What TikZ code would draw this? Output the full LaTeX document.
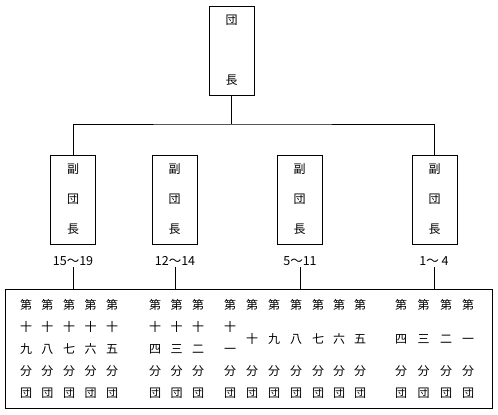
\documentclass[tikz,border=0pt]{standalone}
\usepackage{fontspec}
\setmainfont{Noto Sans CJK JP}
\tikzset{
  waku/.style={draw,line width=0.8pt,inner sep=0pt},
  yaku/.style={waku,minimum width=45pt,minimum height=89pt,align=center},
  bcol/.style={inner sep=0pt,anchor=north,align=center,font=\fontsize{12}{22}\selectfont}
}

\begin{document}
\begin{tikzpicture}[x=1pt,y=-1pt,line width=0.8pt]
\useasboundingbox (0,0) rectangle (498,415);

% create the node
\node[yaku,font=\fontsize{12}{60}\selectfont] (dancho) at (231.5,50.5) {団\\長};

\foreach \i/\x in {1/73,2/174.5,3/299.5,4/434.5}
  \node[yaku,font=\fontsize{12}{30}\selectfont] (fuku\i) at (\x,199.5) {副\\団\\長};

\foreach \i/\x/\t in {1/73/15〜19,2/175/12〜14,3/300/5〜11,4/434/1〜 4}
  \node[inner sep=1pt,font=\fontsize{12.5}{14}\selectfont] (han\i) at (\x,261) {\t};

\node[waku,minimum width=487pt,minimum height=119pt] (bundan) at (248.5,348.5) {};

% draw the lines
\coordinate (bunki) at (dancho.south |- 0,124);
\draw (dancho.south) -- (bunki);
\draw (fuku1.north) |- (bunki) -| (fuku4.north);

\foreach \i in {1,...,4}
  \draw (han\i.south) -- (han\i.south |- bundan.north);

% the columns in the box
\foreach \x/\n/\a/\b in {26/19/十/九,47.5/18/十/八,69/17/十/七,90.5/16/十/六,112/15/十/五,
                      155/14/十/四,176.5/13/十/三,198/12/十/二,230/11/十/一}
  \node[bcol] (b\n) at (\x,299) {第\\\a\\\b\\分\\団};

\foreach \x/\n/\a in {252/10/十,274/9/九,296/8/八,318/7/七,339/6/六,360/5/五,
                    401/4/四,423.5/3/三,446/2/二,468/1/一}
  \node[bcol] (b\n) at (\x,299) {第\\[12pt]\a\\[10pt]分\\団};

\end{tikzpicture}
\end{document}
